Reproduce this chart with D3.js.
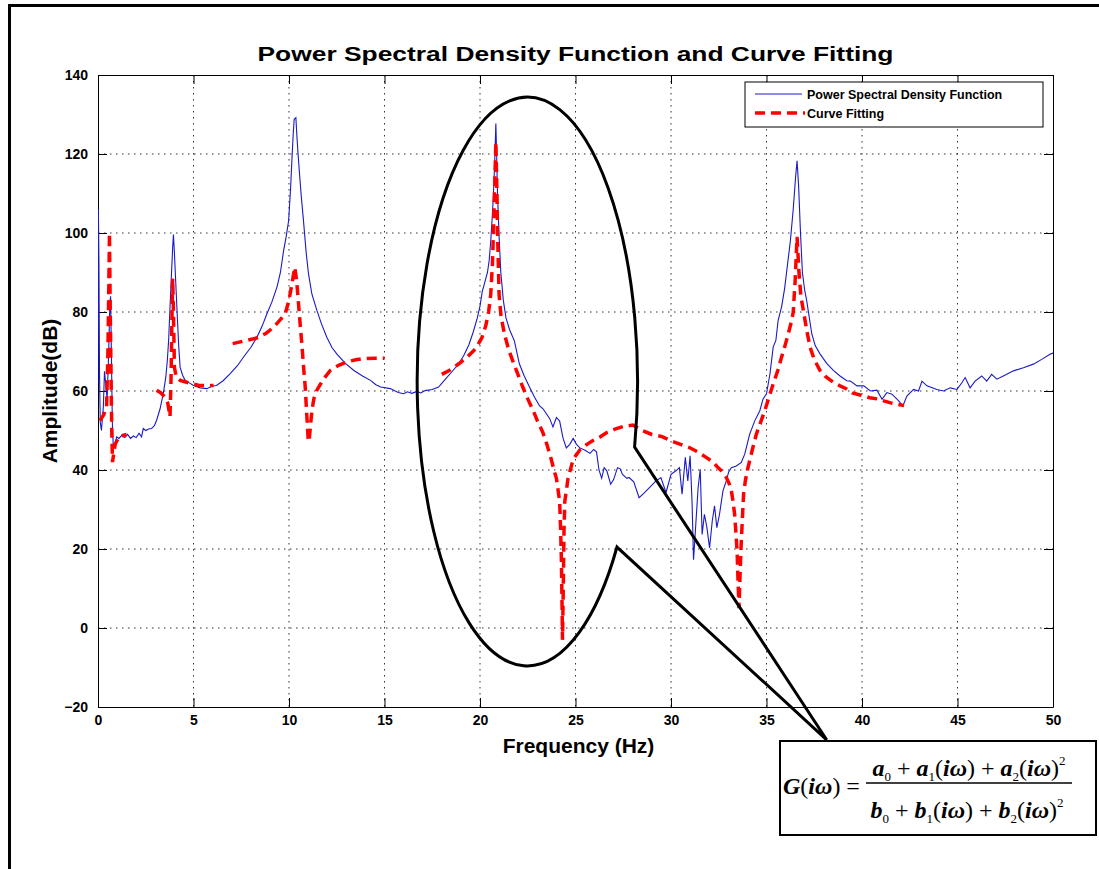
<!DOCTYPE html>
<html>
<head>
<meta charset="utf-8">
<script src="https://cdn.jsdelivr.net/npm/d3@7"></script>
<style>
  body { margin: 0; background: #fff; }
  svg { display: block; font-family: "Liberation Sans", Arial, sans-serif; }
</style>
</head>
<body>
<div id="chart"></div>
<script>
// x ticks / y ticks of the axes
const freqTicks = [0, 5, 10, 15, 20, 25, 30, 35, 40, 45, 50];
const ampTicks = [-20, 0, 20, 40, 60, 80, 100, 120, 140];

// measured power spectral density, [frequency Hz, amplitude dB]
const psd = [
  [0,62],[0.02,106],[0.05,92],[0.08,64],[0.12,52],[0.18,50],[0.28,56],[0.34,65],[0.4,62],[0.48,58],
  [0.56,70],[0.62,82],[0.66,84],[0.7,70],[0.75,52],[0.8,46],[0.88,46.5],[0.98,48.4],[1.1,48],[1.25,48.8],
  [1.4,48.2],[1.55,49],[1.7,48],[1.85,48.6],[2.0,48.2],[2.15,49.3],[2.28,48.4],[2.37,50.5],[2.5,50],[2.65,50.4],
  [2.8,50.5],[2.95,51.2],[3.07,52.6],[3.25,55.5],[3.42,59.4],[3.55,63.5],[3.63,67.8],[3.7,73],[3.77,81.2],[3.85,90],
  [3.91,96.4],[3.95,99.6],[4.0,95],[4.05,89.7],[4.16,78],[4.23,71],[4.3,66],[4.43,64],[4.56,62.7],[4.8,62],
  [5.0,61.4],[5.35,60.8],[5.7,60.6],[5.95,61.2],[6.2,61.4],[6.55,62.6],[6.92,64.4],[7.3,66.4],[7.62,68.6],[8.0,71],
  [8.32,73.6],[8.6,76.5],[8.84,79.5],[9.1,82.5],[9.37,86.3],[9.55,90],[9.72,95.6],[9.85,99],[9.98,103.1],[10.08,111],
  [10.15,118.3],[10.22,125],[10.27,128.8],[10.36,129.2],[10.42,124],[10.5,118.3],[10.63,110],[10.76,103],[10.9,95],[11.02,89.7],
  [11.2,84.5],[11.46,80.4],[11.7,77],[11.98,73.6],[12.25,71],[12.5,69.4],[12.95,67],[13.4,65.2],[13.85,63.8],[14.27,62.7],
  [14.55,61.6],[14.8,61],[15.3,60.6],[15.72,59.6],[16.0,59.3],[16.2,59.8],[16.43,59.4],[16.7,59.9],[16.9,59.5],[17.13,60.1],
  [17.5,60.4],[17.83,61],[18.19,63],[18.55,65],[18.89,66.9],[19.15,69],[19.42,71.7],[19.65,75],[19.86,78.5],[20.0,81.5],
  [20.12,85.2],[20.25,87.5],[20.39,90],[20.48,93],[20.56,97.8],[20.64,104],[20.7,109.4],[20.77,118],[20.83,127.7],[20.88,118],
  [20.92,109.4],[21.0,99],[21.09,90],[21.22,83],[21.36,78.5],[21.55,75.5],[21.8,72.7],[22.06,66.9],[22.3,64],[22.59,61],
  [22.85,58.5],[23.12,56.2],[23.3,55.5],[23.47,54.3],[23.65,53],[23.82,50.9],[24.0,53.3],[24.17,52.4],[24.35,48],[24.52,45.6],
  [24.7,46.5],[24.88,48],[25.05,46.5],[25.23,45.6],[25.5,45],[25.76,44.2],[25.95,45.2],[26.1,44.6],[26.23,40],[26.37,37.9],
  [26.5,40.6],[26.64,39.8],[26.84,36.4],[26.99,37.5],[27.2,40.6],[27.34,40.3],[27.46,38.9],[27.69,37.9],[27.8,38.1],[28.05,37],
  [28.33,33],[28.6,34.2],[28.86,35.5],[29.2,37.2],[29.47,38.1],[29.74,34.3],[30.0,38.9],[30.26,39.8],[30.44,40.6],[30.58,33.9],
  [30.75,43.2],[30.88,37.2],[31.0,43.6],[31.1,32.2],[31.18,17.3],[31.32,27.9],[31.42,35.5],[31.53,40.2],[31.63,23.7],[31.75,28.8],
  [31.88,25.4],[32.02,20.3],[32.16,27.1],[32.28,30.9],[32.4,25.4],[32.54,28.8],[32.72,34.7],[32.89,37.2],[33.02,39.5],[33.16,40.6],
  [33.42,41],[33.68,41.9],[33.86,44],[34.12,49.1],[34.39,52.5],[34.65,55],[34.82,58],[35.0,59.3],[35.18,64.3],[35.35,71.1],
  [35.49,72.8],[35.61,77.9],[35.79,81.3],[35.95,86],[36.1,92],[36.25,98],[36.4,106],[36.52,114],[36.6,118.3],[36.68,112],
  [36.78,100],[36.88,90],[37.0,85.5],[37.1,83],[37.37,74.5],[37.55,71.5],[37.8,69.4],[38.15,67],[38.5,65.2],[38.85,63.8],
  [39.2,62.6],[39.39,62.5],[39.74,61.3],[40.09,61.3],[40.44,60],[40.78,60.2],[41.05,57.9],[41.3,59.6],[41.57,59.2],[41.92,57.5],
  [42.14,56.2],[42.35,58.7],[42.7,60.4],[42.96,60],[43.14,62.5],[43.4,61.3],[43.92,60.4],[44.27,60],[44.62,60.8],[44.97,60.4],
  [45.23,62.1],[45.4,63.4],[45.66,60.8],[45.92,62.5],[46.27,63.8],[46.53,62.5],[46.79,64.2],[47.06,63],[47.4,63.8],[47.93,65.1],
  [48.45,65.9],[48.97,66.8],[49.41,68],[49.84,69.3],[50,69.6]
];

// curve fitting, one piece per mode
const fit1 = [
  [0.1,52.5],[0.3,54],[0.45,56],[0.52,70],[0.57,88],[0.6,100],[0.63,85],[0.68,65],[0.72,50],[0.76,42],
  [0.82,44],[0.9,46.5],[1.1,48.5],[1.5,49]
];
const fit2 = [
  [3.07,60.2],[3.3,59.5],[3.5,58.5],[3.65,57],[3.72,55],[3.77,53.5],[3.82,62],[3.87,78],[3.91,88.5],[3.95,80],
  [4.0,66],[4.1,63.5],[4.3,62.7],[4.8,62],[5.3,61.4],[6.05,61.4]
];
const fit3 = [
  [7.05,72],[7.6,72.6],[8.3,73.4],[8.8,74.6],[9.2,76.2],[9.5,77.8],[9.8,79.5],[10.0,83],[10.15,87],[10.3,91.3],
  [10.4,88],[10.5,82],[10.6,76],[10.67,72],[10.78,65],[10.85,61],[10.93,54],[11.0,48],[11.05,47.2],[11.12,51],
  [11.2,55],[11.3,58],[11.46,60.2],[11.8,63],[12.16,65.2],[12.6,66.5],[13.04,67.4],[13.5,67.9],[13.9,68.2],[14.5,68.3],
  [15.0,68.3]
];
const fit4 = [
  [18.0,64.2],[18.5,65.5],[18.89,66.9],[19.3,68.5],[19.77,70.7],[20.1,73.5],[20.3,76.5],[20.45,80],[20.56,84.3],[20.65,92],
  [20.7,99.7],[20.77,112],[20.83,123],[20.88,112],[20.92,99.7],[21.0,84.3],[21.1,79],[21.27,74.6],[21.5,70.5],[21.7,67.8],
  [22.0,64],[22.24,61],[22.5,58],[22.76,55.3],[23.0,52.5],[23.29,49.5],[23.5,46.5],[23.73,42.7],[23.9,39.5],[24.0,37.9],
  [24.1,34.5],[24.17,32],[24.22,25],[24.26,17.6],[24.29,8],[24.32,-3],[24.36,10],[24.4,25],[24.44,32],[24.61,37.9],
  [24.88,42.7],[25.23,45.1],[25.6,46.5],[25.93,47.5],[26.3,48.4],[26.64,49.5],[27.1,50.4],[27.5,51],[28.0,51.4],[28.5,50],
  [29.0,49],[29.5,48.5],[30.09,47.2],[30.5,46.5],[30.96,45.7],[31.4,44.6],[31.84,43.2],[32.2,42],[32.46,40.6],[32.7,39.5],
  [32.9,38.1],[33.05,36.5],[33.16,34.7],[33.25,32],[33.33,28.8],[33.4,24],[33.46,19.5],[33.51,12],[33.56,5],[33.62,14],
  [33.68,22],[33.74,28],[33.8,33.9],[33.9,37.5],[34.03,40.6],[34.25,45],[34.47,49.1],[34.7,52.2],[34.91,55],[35.1,58],
  [35.35,61.8],[35.6,65.3],[35.79,68.6],[36.0,72],[36.14,74.5],[36.3,77.5],[36.4,80],[36.5,88],[36.6,99],[36.7,90],
  [36.8,84],[36.93,80.4],[37.1,75.5],[37.28,71.1],[37.5,68],[37.8,65.2],[38.1,63.6],[38.5,62.2],[38.85,61.3],[39.2,60.5],
  [39.5,59.5],[39.9,59],[40.4,58.3],[40.8,58],[41.5,57],[42.2,56.3]
];
const fitSegments = [fit1, fit2, fit3, fit4];

const legendLabels = ["Power Spectral Density Function", "Curve Fitting"];

// callout: ellipse around the 20-34 Hz region, pointer tip near the formula box
const callout = {cx: 22.48, cy: 62.4, rx: 5.77, ry: 72, tipX: 38.15, tipY: -28.3};

const blue = '#1a1ac8';
const red = '#ff0000';

function chart() {
    const W = 1099, H = 869;
    const margin = {top: 75, right: 46, bottom: 162, left: 98};
    const width = W - margin.left - margin.right;
    const height = H - margin.top - margin.bottom;

    const svg = d3.select("#chart").append("svg")
        .attr("width", W)
        .attr("height", H);

    // figure frame (only top and left edges are visible)
    svg.append("line").attr("x1", 9.5).attr("x2", W).attr("y1", 5.5).attr("y2", 5.5)
        .attr("stroke", "black").attr("stroke-width", 3);
    svg.append("line").attr("x1", 9.5).attr("x2", 9.5).attr("y1", 4).attr("y2", H)
        .attr("stroke", "black").attr("stroke-width", 3);

    const g = svg.append("g").attr("transform", `translate(${margin.left}, ${margin.top})`);

    const x = d3.scaleLinear().domain([0, 50]).range([0, width]);
    const y = d3.scaleLinear().domain([-20, 140]).range([height, 0]);

    // dotted grid
    g.append("g").selectAll("line").data(freqTicks.slice(1, -1)).enter().append("line")
        .attr("x1", d => x(d)).attr("x2", d => x(d)).attr("y1", 0).attr("y2", height)
        .attr("stroke", "#333").attr("stroke-width", 1).attr("stroke-dasharray", "1.5,4.5");
    g.append("g").selectAll("line").data(ampTicks.slice(1, -1)).enter().append("line")
        .attr("x1", 0).attr("x2", width).attr("y1", d => y(d)).attr("y2", d => y(d))
        .attr("stroke", "#333").attr("stroke-width", 1).attr("stroke-dasharray", "1.5,4.5");

    // axes, ticks pointing inward on all four sides
    const tick = 9;
    const bottomAxis = g.append("g").attr("transform", `translate(0, ${height})`)
        .call(d3.axisBottom(x).tickValues(freqTicks).tickSizeInner(-tick).tickSizeOuter(0).tickPadding(8));
    const leftAxis = g.append("g")
        .call(d3.axisLeft(y).tickValues(ampTicks).tickSizeInner(-tick).tickSizeOuter(0).tickPadding(10));
    const topAxis = g.append("g")
        .call(d3.axisTop(x).tickValues(freqTicks).tickSizeInner(-tick).tickSizeOuter(0).tickFormat(""));
    const rightAxis = g.append("g").attr("transform", `translate(${width}, 0)`)
        .call(d3.axisRight(y).tickValues(ampTicks).tickSizeInner(-tick).tickSizeOuter(0).tickFormat(""));
    [bottomAxis, leftAxis, topAxis, rightAxis].forEach(a => {
        a.select(".domain").attr("stroke", "black");
        a.selectAll(".tick line").attr("stroke", "black");
        a.selectAll("text").attr("fill", "black")
            .style("font-family", '"Liberation Sans", Arial, sans-serif')
            .style("font-size", "14px").style("font-weight", "bold");
    });

    // data lines
    g.append("clipPath").attr("id", "plotclip").append("rect")
        .attr("width", width).attr("height", height);
    const plot = g.append("g").attr("clip-path", "url(#plotclip)");
    const line = d3.line().x(d => x(d[0])).y(d => y(d[1]));

    plot.append("path").datum(psd)
        .attr("d", line).attr("fill", "none")
        .attr("stroke", blue).attr("stroke-width", 1.1);

    plot.selectAll("path.fit").data(fitSegments).enter().append("path")
        .attr("class", "fit")
        .attr("d", line).attr("fill", "none")
        .attr("stroke", red).attr("stroke-width", 3.5)
        .attr("stroke-dasharray", "10,6");

    // callout ellipse with pointer
    const ecx = x(callout.cx), ecy = y(callout.cy);
    const erx = x(callout.rx) - x(0), ery = y(0) - y(callout.ry);
    const tip = [x(callout.tipX), y(callout.tipY)];
    const a1 = Math.asin((y(callout.cy) - y(45.8)) / ery);   // upper pointer base
    const a2 = Math.asin((y(callout.cy) - y(20.5)) / ery);   // lower pointer base
    const p1 = [ecx + erx * Math.cos(a1), ecy - ery * Math.sin(a1)];
    const p2 = [ecx + erx * Math.cos(a2), ecy - ery * Math.sin(a2)];
    const calloutPath = `M${p1[0]},${p1[1]} A${erx},${ery} 0 1 0 ${p2[0]},${p2[1]} L${tip[0]},${tip[1]} Z`;
    g.append("path").attr("d", calloutPath)
        .attr("fill", "none").attr("stroke", "black").attr("stroke-width", 3)
        .attr("stroke-linejoin", "miter");

    // legend
    const leg = g.append("g").attr("transform", `translate(${width - 308}, 7)`);
    leg.append("rect").attr("width", 298).attr("height", 45)
        .attr("fill", "white").attr("stroke", "black").attr("stroke-width", 1);
    leg.append("line").attr("x1", 10).attr("x2", 57).attr("y1", 12).attr("y2", 12)
        .attr("stroke", blue).attr("stroke-width", 1.1);
    leg.append("line").attr("x1", 10).attr("x2", 60).attr("y1", 31).attr("y2", 31)
        .attr("stroke", red).attr("stroke-width", 3.5).attr("stroke-dasharray", "10,6");
    leg.selectAll("text").data(legendLabels).enter().append("text")
        .attr("x", 62).attr("y", (d, i) => 16.5 + i * 19)
        .style("font-size", "12.5px").style("font-weight", "bold")
        .text(d => d);

    // title and axis labels
    svg.append("text").attr("x", margin.left + width / 2).attr("y", 61)
        .attr("text-anchor", "middle")
        .attr("textLength", 636).attr("lengthAdjust", "spacingAndGlyphs")
        .style("font-size", "20px").style("font-weight", "bold")
        .text("Power Spectral Density Function and Curve Fitting");
    svg.append("text").attr("x", margin.left + width / 2 + 3).attr("y", 753)
        .attr("text-anchor", "middle")
        .style("font-size", "21px").style("font-weight", "bold")
        .text("Frequency (Hz)");
    svg.append("text")
        .attr("transform", `translate(57, 391) rotate(-90)`)
        .attr("text-anchor", "middle")
        .style("font-size", "21px").style("font-weight", "bold")
        .text("Amplitude(dB)");

    // transfer function box
    const fb = svg.append("g").attr("transform", "translate(780, 741)");
    fb.append("rect").attr("width", 316).attr("height", 94)
        .attr("fill", "white").attr("stroke", "black").attr("stroke-width", 2);
    const serif = '"Liberation Serif", "Times New Roman", serif';
    const bi = t => `<tspan font-style="italic" font-weight="bold">${t}</tspan>`;
    // subscript, then the following piece is lifted back to the baseline
    const sub = (t, next) => `<tspan font-size="13px" dy="5">${t}</tspan><tspan dy="-5">${next}</tspan>`;
    const sup = t => `<tspan font-size="13px" dy="-11">${t}</tspan>`;
    const iw = `(${bi("iω")})`;
    const fraction = v =>
        `${bi(v)}${sub("0", " + ")}${bi(v)}${sub("1", iw + " + ")}${bi(v)}${sub("2", iw)}${sup("2")}`;
    fb.append("text").attr("x", 3).attr("y", 53)
        .style("font-family", serif).style("font-size", "24px")
        .html(`${bi("G")}${iw} =`);
    fb.append("line").attr("x1", 86).attr("x2", 292).attr("y1", 42).attr("y2", 42)
        .attr("stroke", "black").attr("stroke-width", 1.3);
    fb.append("text").attr("x", 189).attr("y", 35).attr("text-anchor", "middle")
        .style("font-family", serif).style("font-size", "24px")
        .html(fraction("a"));
    fb.append("text").attr("x", 187).attr("y", 77).attr("text-anchor", "middle")
        .style("font-family", serif).style("font-size", "24px")
        .html(fraction("b"));
}

chart();
</script>
</body>
</html>
